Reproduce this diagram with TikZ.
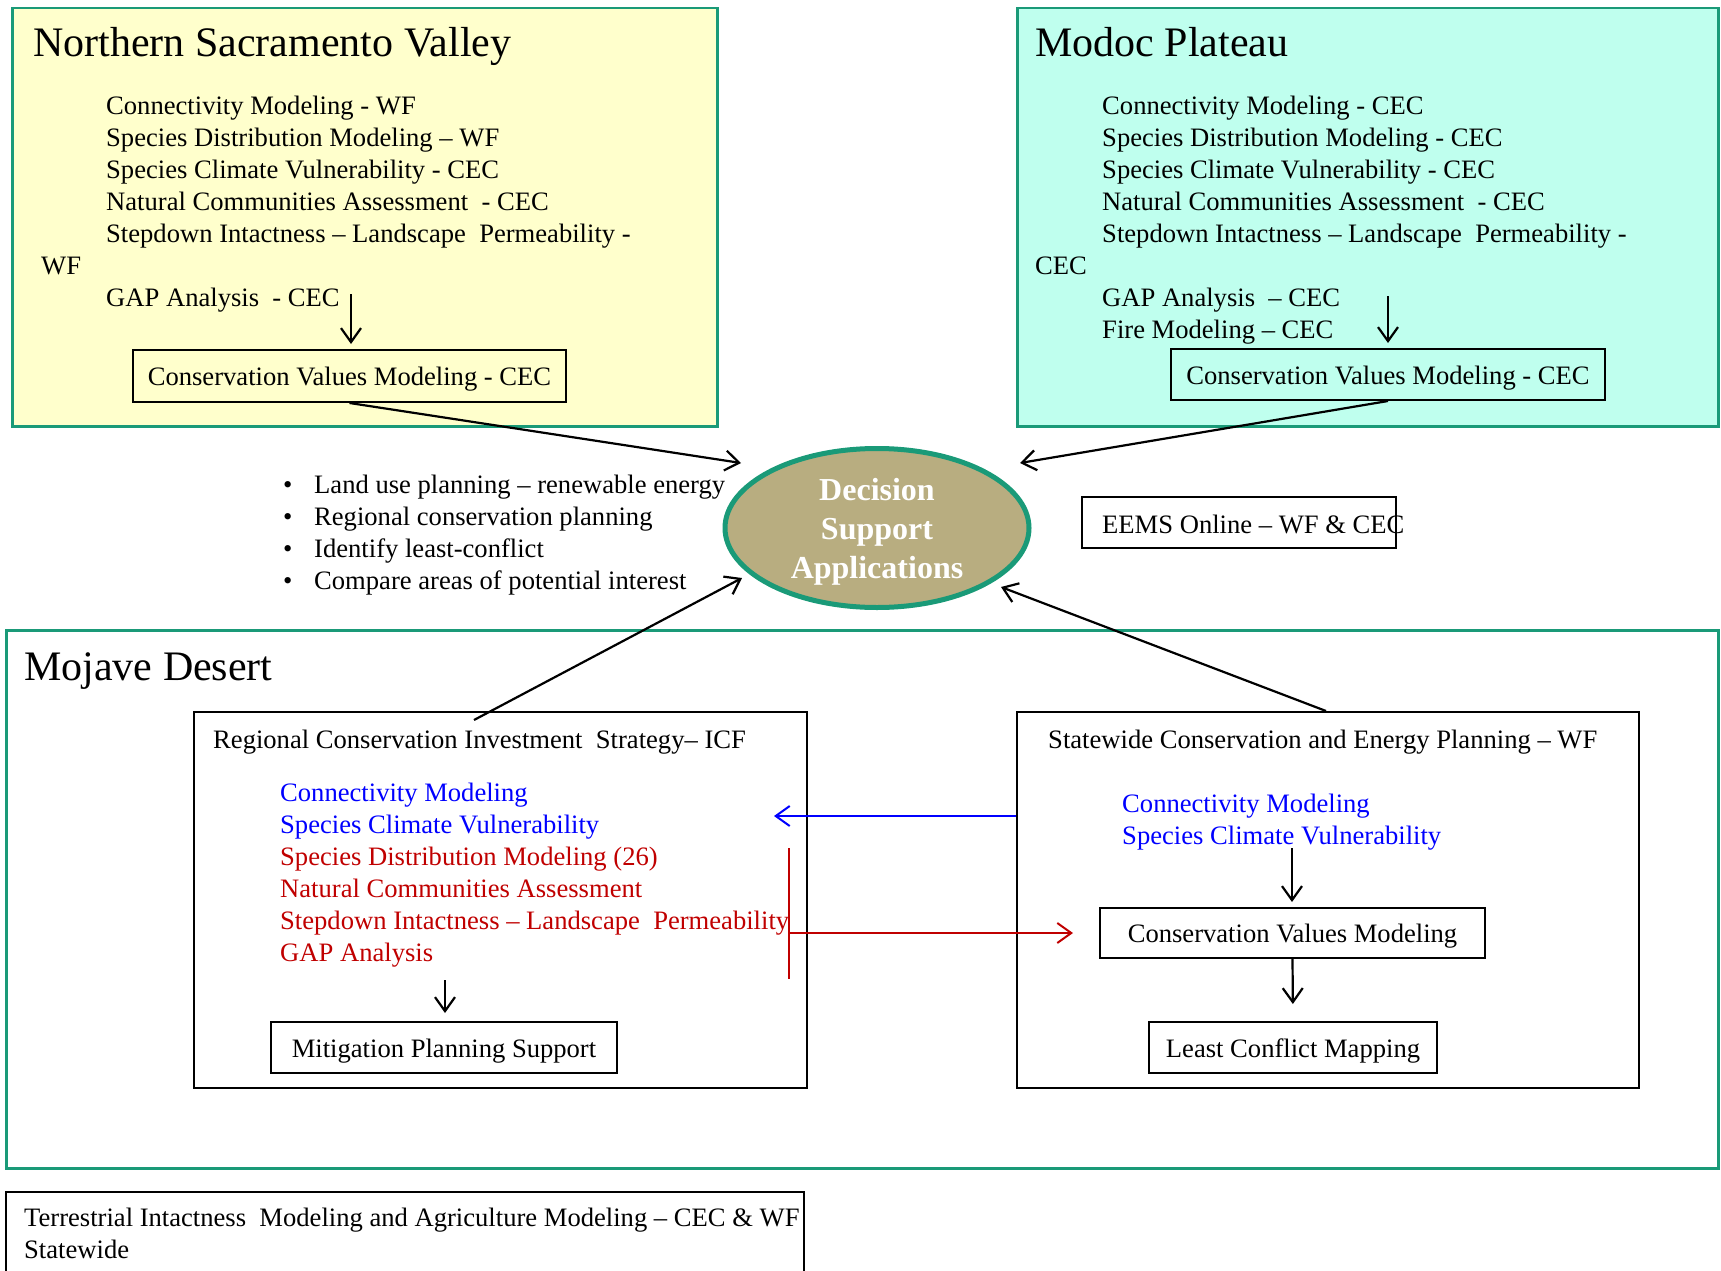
\documentclass[tikz,border=0pt]{standalone}
\usepackage{fontspec}
\setmainfont{Liberation Serif}
\usetikzlibrary{
  arrows.meta,
  shapes.geometric,
}
\definecolor{regionGreen}{HTML}{1A9A78}
\definecolor{nsvBg}{HTML}{FFFFCC}
\definecolor{modocBg}{HTML}{BFFFEE}
\definecolor{dsaBg}{HTML}{B8AD80}
\definecolor{linkBlue}{HTML}{0000FF}
\definecolor{linkRed}{HTML}{C00000}
\newcommand{\txtBody}{\fontsize{26.6pt}{32pt}\selectfont}
\newcommand{\txtRegion}{\fontsize{42pt}{48pt}\selectfont}
\newcommand{\txtDSA}{\fontsize{32pt}{39pt}\selectfont\bfseries}
\tikzset{
  regionbox/.style={
    rectangle, draw=regionGreen, line width=2.5pt, anchor=north west, inner sep=0pt,
  },
  regiontitle/.style={
    anchor=base west, inner sep=0pt, font=\txtRegion,
  },
  itembox/.style={
    rectangle, draw=black, line width=2pt, inner sep=0pt, font=\txtBody,
    text height=19pt, text depth=0pt,
  },
  % multi-line lists sit on the baseline of their last line
  listtext/.style={
    anchor=base west, align=left, inner sep=0pt, font=\txtBody,
  },
  arrowMain/.style={
    -{Straight Barb[length=14pt,width=20pt]}, line width=2.2pt, draw=black,
  },
  arrowLink/.style={
    -{Straight Barb[length=14pt,width=20pt]}, line width=2pt, draw=#1,
  },
}

\begin{document}
\begin{tikzpicture}[x=1pt, y=-1pt]
\useasboundingbox (0,0) rectangle (1721,1271);

% regions
\node[regionbox, fill=nsvBg, minimum width=705pt, minimum height=418pt] (nsv) at (11,7) {};
\node[regionbox, fill=modocBg, minimum width=701pt, minimum height=418pt] (modoc) at (1016,7) {};
\node[regionbox, minimum width=1712pt, minimum height=538pt] (mojave) at (5,629) {};

% Northern Sacramento Valley
\node[regiontitle] (nsvTitle) at (33,57) {Northern Sacramento Valley};
\node[listtext] (nsvList) at (41,306) {%
  \hspace*{65pt}Connectivity Modeling - WF\\
  \hspace*{65pt}Species Distribution Modeling -- WF\\
  \hspace*{65pt}Species Climate Vulnerability - CEC\\
  \hspace*{65pt}Natural Communities Assessment\ \ - CEC\\
  \hspace*{65pt}Stepdown Intactness -- Landscape\ \ Permeability -\\
  WF\\
  \hspace*{65pt}GAP Analysis\ \ - CEC};
\node[itembox, minimum width=433pt, minimum height=52pt] (nsvCvm) at (349.5,376)
  {Conservation Values Modeling - CEC};
\coordinate (nsvArrowTop) at (351,294);
\draw[arrowMain, shorten >=5pt] (nsvArrowTop) -- (nsvArrowTop |- nsvCvm.north);

% Modoc Plateau
\node[regiontitle] (modocTitle) at (1035,57) {Modoc Plateau};
\node[listtext] (modocList) at (1035,338) {%
  \hspace*{67pt}Connectivity Modeling - CEC\\
  \hspace*{67pt}Species Distribution Modeling - CEC\\
  \hspace*{67pt}Species Climate Vulnerability - CEC\\
  \hspace*{67pt}Natural Communities Assessment\ \ - CEC\\
  \hspace*{67pt}Stepdown Intactness -- Landscape\ \ Permeability -\\
  CEC\\
  \hspace*{67pt}GAP Analysis\ \ -- CEC\\
  \hspace*{67pt}Fire Modeling -- CEC};
\node[itembox, minimum width=434pt, minimum height=51pt] (modocCvm) at (1388,374.5)
  {Conservation Values Modeling - CEC};
\coordinate (modocArrowTop) at (1388,296);
\draw[arrowMain, shorten >=5pt] (modocArrowTop) -- (modocArrowTop |- modocCvm.north);

% decision support
\node[ellipse, draw=regionGreen, line width=5pt, fill=dsaBg, minimum width=304pt,
  minimum height=159pt, inner sep=0pt, align=center, text=white, font=\txtDSA,
  text depth=0pt]
  (dsa) at (877,528) {Decision\\Support\\Applications};
\coordinate (dsaNW) at (741,463);
\coordinate (dsaNE) at (1020,463);
\coordinate (dsaSW) at (742,578);
\coordinate (dsaSE) at (1001,587);
\draw[arrowMain] (nsvCvm.south) -- (dsaNW);
\draw[arrowMain] (modocCvm.south) -- (dsaNE);

\node[listtext] (uses) at (283,589) {%
  \makebox[31pt][l]{•}Land use planning -- renewable energy\\
  \makebox[31pt][l]{•}Regional conservation planning\\
  \makebox[31pt][l]{•}Identify least-conflict\\
  \makebox[31pt][l]{•}Compare areas of potential interest};

\node[itembox, minimum width=314pt, minimum height=51pt] (eems) at (1239,522.5) {};
\node[listtext] (eemsText) at (1102,533) {EEMS Online -- WF \& CEC};

% Mojave Desert
\node[regiontitle] (mojaveTitle) at (24,680) {Mojave Desert};
\node[itembox, anchor=north west, minimum width=613pt, minimum height=376pt] (rcis) at (193,711) {};
\node[itembox, anchor=north west, minimum width=622pt, minimum height=376pt] (sw) at (1016,711) {};

\node[listtext] (rcisTitle) at (213,748) {Regional Conservation Investment\ \ Strategy-- ICF};
\node[listtext, text=linkBlue] (rcisShared) at (280,833) {%
  Connectivity Modeling\\
  Species Climate Vulnerability};
\node[listtext, text=linkRed] (rcisOwn) at (280,961) {%
  Species Distribution Modeling (26)\\
  Natural Communities Assessment\\
  Stepdown Intactness -- Landscape\ \ Permeability\\
  GAP Analysis};
\node[itembox, minimum width=346pt, minimum height=51pt] (mitigation) at (444,1047.5)
  {Mitigation Planning Support};
\coordinate (rcisArrowTop) at (445,980);
\draw[arrowMain, shorten >=8pt] (rcisArrowTop) -- (rcisArrowTop |- mitigation.north);

\node[listtext] (swTitle) at (1048,748) {Statewide Conservation and Energy Planning -- WF};
\node[listtext, text=linkBlue] (swShared) at (1122,844) {%
  Connectivity Modeling\\
  Species Climate Vulnerability};
\node[itembox, minimum width=385pt, minimum height=50pt] (swCvm) at (1292.5,933)
  {Conservation Values Modeling};
\node[itembox, minimum width=288pt, minimum height=51pt] (leastConflict) at (1293,1047.5)
  {Least Conflict Mapping};
\coordinate (swArrowTop) at (1292,848);
\draw[arrowMain, shorten >=5pt] (swArrowTop) -- (swArrowTop |- swCvm.north);
\draw[arrowMain, shorten >=17pt] (swCvm.south) -- (leastConflict.north);

% links between the Mojave studies
\coordinate (blueIn) at (774,816);
\draw[arrowLink=linkBlue] (blueIn -| sw.west) -- (blueIn);
\coordinate (redBarTop) at (789,848);
\coordinate (redBarBot) at (789,979);
\coordinate (redOut) at (789,933);
\coordinate (redIn) at (1073,933);
\draw[linkRed, line width=2pt] (redBarTop) -- (redBarBot);
\draw[arrowLink=linkRed] (redOut) -- (redIn);

\coordinate (rcisOut) at (474,720);
\coordinate (swOut) at (1326,711);
\draw[arrowMain] (rcisOut) -- (dsaSW);
\draw[arrowMain] (swOut) -- (dsaSE);

% statewide layers
\node[itembox, anchor=north west, minimum width=798pt, minimum height=110pt] (statewide) at (5,1191) {};
\node[listtext] (statewideText) at (24,1258) {%
  Terrestrial Intactness\ \ Modeling and Agriculture Modeling -- CEC \& WF\\
  Statewide};

\end{tikzpicture}
\end{document}
